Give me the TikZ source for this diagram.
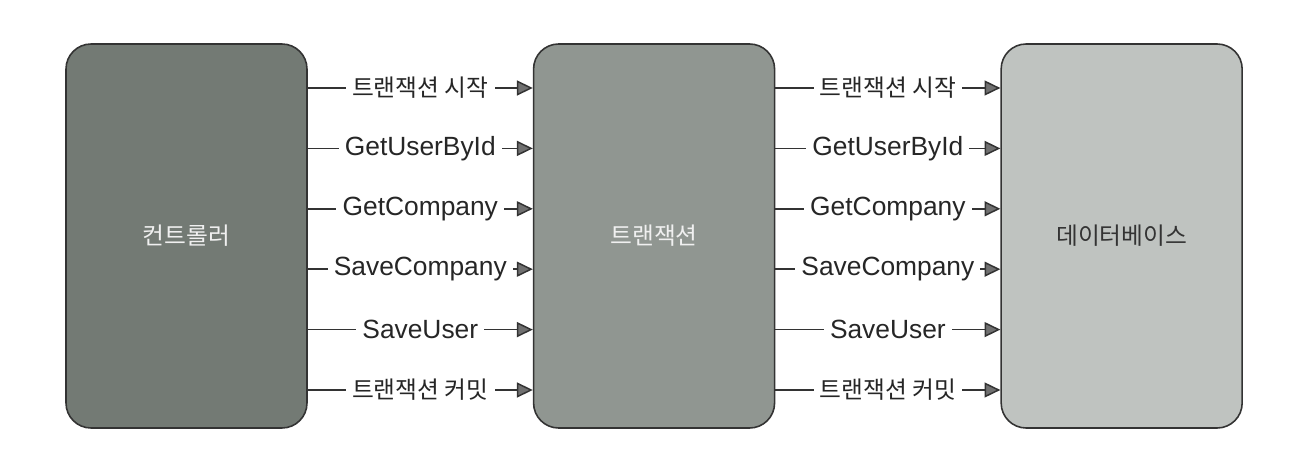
\documentclass[tikz,border=0pt]{standalone}
\usepackage{fontspec}
\setmainfont{Liberation Sans}
\newfontfamily\kr{Noto Sans CJK KR}
\usetikzlibrary{arrows.meta,positioning}

\definecolor{ctrlgray}{HTML}{737A74}
\definecolor{txgray}{HTML}{909691}
\definecolor{dbgray}{HTML}{BFC3C0}
\definecolor{linegray}{HTML}{333333}

\tikzset{
  layer/.style = {draw=linegray, line width=0.9pt, rounded corners=0.5cm,
    minimum width=4.82cm, minimum height=7.68cm, font=\kr\fontsize{13.5}{15}\selectfont},
  call/.style = {draw=linegray, line width=0.85pt,
    -{Triangle[length=9pt,width=8.5pt,fill=linegray!70]}},
  callname/.style = {fill=white, inner sep=3.5pt, text=black!85,
    font=\fontsize{15}{17}\selectfont}
}

\begin{document}
\begin{tikzpicture}
  \useasboundingbox (0,0) rectangle (25.88,9.4);

  \node[layer, fill=ctrlgray, text=white!94!black] (ctrl) at (3.73,4.68) {컨트롤러};
  \node[layer, fill=txgray, text=white!94!black, right=4.5cm of ctrl] (tx) {트랜잭션};
  \node[layer, fill=dbgray, text=black!80, right=4.5cm of tx] (db) {데이터베이스};

  % Calls passed from layer to layer
  \foreach \name [count=\i from 0] in {{\kr\fontsize{13.5}{15}\selectfont 트랜잭션 시작},
      GetUserById, GetCompany, SaveCompany, SaveUser,
      {\kr\fontsize{13.5}{15}\selectfont 트랜잭션 커밋}} {
    \coordinate (row\i) at (0,7.64-\i*1.208);
    \draw[call] (ctrl.east |- row\i) -- (tx.west |- row\i)
      node[callname, midway] {\name};
    \draw[call] (tx.east |- row\i) -- (db.west |- row\i)
      node[callname, midway] {\name};
  }
\end{tikzpicture}
\end{document}
